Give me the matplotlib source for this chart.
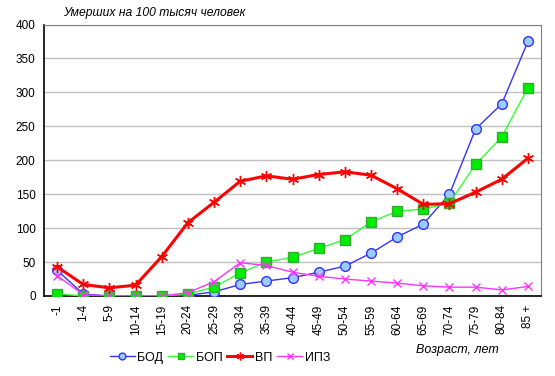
import matplotlib
matplotlib.use("Agg")
import matplotlib.pyplot as plt
import numpy as np

plt.rcParams['font.family'] = ['Liberation Sans', 'DejaVu Sans']

# age groups
ages = ['-1', '1-4', '5-9', '10-14', '15-19', '20-24', '25-29', '30-34', '35-39',
        '40-44', '45-49', '50-54', '55-59', '60-64', '65-69', '70-74', '75-79',
        '80-84', '85 +']

# deaths per 100 000
bod = [38, 3, 0, 0, 0, 1, 6, 17, 22, 27, 35, 44, 63, 87, 106, 150, 246, 283, 375]
bop = [3, 0, 0, 0, 0, 3, 13, 34, 50, 57, 70, 83, 109, 125, 128, 137, 194, 234, 307]
vp = [43, 17, 12, 16, 58, 108, 138, 169, 177, 172, 179, 183, 178, 158, 135, 136, 153, 172, 203]
ipz = [30, 2, 0, 0, 0, 5, 21, 49, 45, 35, 29, 25, 22, 19, 15, 13, 13, 9, 14]

fig = plt.figure(figsize=(5.55, 3.76), dpi=100)
ax = fig.add_axes([0.0793, 0.2128, 0.8955, 0.722])

x = np.arange(len(ages))
ax.plot(x, bod, color='#3333FF', lw=1, marker='o', ms=7, mfc='#99CCFF', mec='#3333FF',
        mew=1, label='БОД', zorder=3)
ax.plot(x, bop, color='#33FF33', lw=1, marker='s', ms=6.5, mfc='#00EE00', mec='#33AA33',
        mew=1, label='БОП', zorder=3)
ax.plot(x, vp, color='#FF0000', lw=2.2, marker=(6, 2, 0), ms=8, mec='#FF0000',
        mew=1, label='ВП', zorder=4)
ax.plot(x, ipz, color='#FF33FF', lw=1, marker='x', ms=6, mec='#FF33FF',
        mew=1, label='ИПЗ', zorder=3)

ax.set_xlim(-0.5, len(ages) - 0.5)
ax.set_ylim(0, 400)
ax.set_yticks(range(0, 401, 50))
ax.set_xticks(x)
ax.set_xticklabels(ages, rotation=90, fontsize=8.5)
ax.tick_params(axis='y', labelsize=8.5, length=0, pad=6)
ax.tick_params(axis='x', length=0, pad=6)
ax.yaxis.grid(True, color='#C0C0C0', lw=1)
ax.set_axisbelow(True)
for s in ['top', 'right']:
    ax.spines[s].set_color('#808080')
for s in ['left', 'bottom']:
    ax.spines[s].set_color('black')
    ax.spines[s].set_linewidth(1.2)

fig.text(0.113, 0.957, 'Умерших на 100 тысяч человек', fontsize=8.7, style='italic')
fig.text(0.899, 0.069, 'Возраст, лет', fontsize=9, style='italic', ha='right', va='center')

fig.legend(*ax.get_legend_handles_labels(), loc='center', bbox_to_anchor=(0.396, 0.049),
           ncol=4, frameon=False, fontsize=9, handlelength=2.0, handletextpad=0.2,
           columnspacing=0.4, markerscale=0.7, borderpad=0)

fig.savefig('out.png', dpi=100)
